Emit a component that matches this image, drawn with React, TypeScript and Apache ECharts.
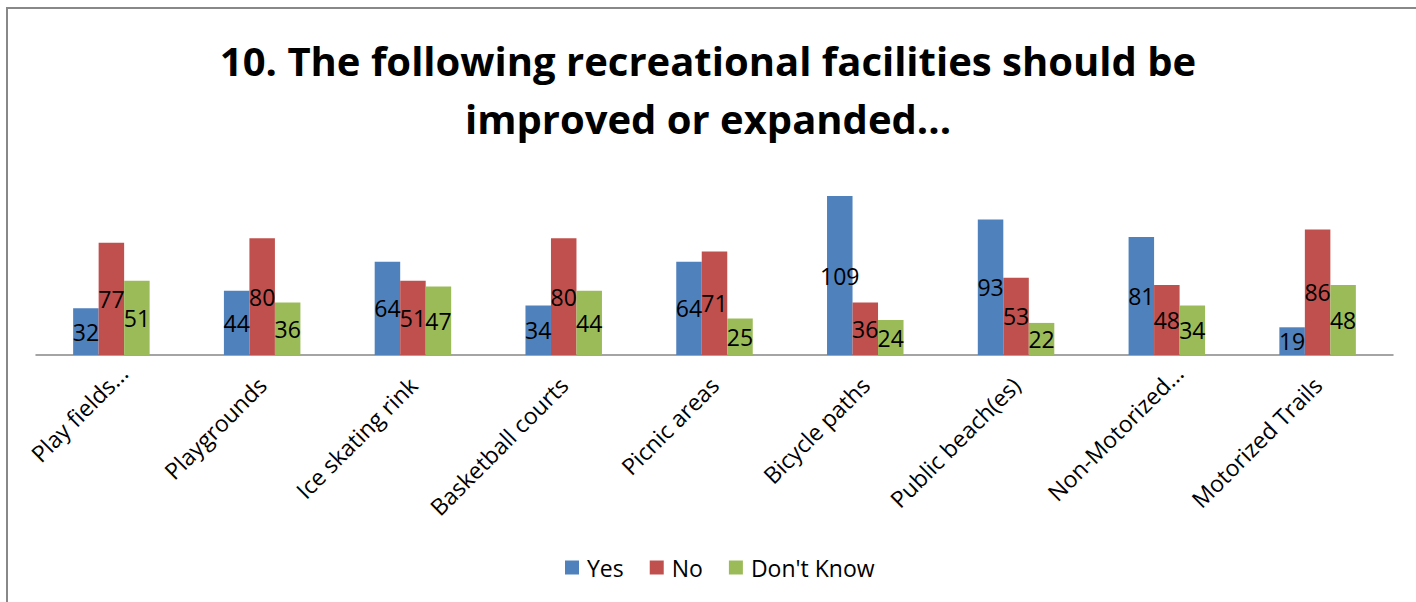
import React, { useEffect, useRef } from "react";
import * as echarts from "echarts";

const categories = [
  "Play fields...",
  "Playgrounds",
  "Ice skating rink",
  "Basketball courts",
  "Picnic areas",
  "Bicycle paths",
  "Public beach(es)",
  "Non-Motorized...",
  "Motorized Trails",
];
const yesValues = [32, 44, 64, 34, 64, 109, 93, 81, 19];
const noValues = [77, 80, 51, 80, 71, 36, 53, 48, 86];
const dontKnowValues = [51, 36, 47, 44, 25, 24, 22, 34, 48];
const seriesNames = ["Yes", "No", "Don't Know"];
const titleText = "10. The following recreational facilities should be\nimproved or expanded...";

const FONT = "'Open Sans', 'DejaVu Sans', sans-serif";

export default function App() {
  const ref = useRef<HTMLDivElement>(null);
  useEffect(() => {
    if (!ref.current) return;
    const chart = echarts.init(ref.current, null, { renderer: "svg" });
    const label = {
      show: true,
      position: "inside",
      color: "#000",
      fontSize: 23,
      fontFamily: FONT,
    };
    const mk = (name: string, data: number[], color: string) => ({
      name,
      type: "bar",
      data,
      barWidth: 25.5,
      barGap: "0%",
      itemStyle: { color },
      label,
    });
    const catData = categories.map((c) =>
      c.endsWith("...")
        ? { value: c, textStyle: { padding: [0, -17, 0, 0] } }
        : c
    );
    chart.setOption({
      animation: false,
      backgroundColor: "#fff",
      textStyle: { fontFamily: FONT },
      title: {
        text: titleText,
        left: "center",
        top: 26,
        textStyle: {
          fontSize: 40,
          fontWeight: "bold",
          color: "#000",
          lineHeight: 58,
          fontFamily: FONT,
        },
      },
      legend: {
        data: seriesNames,
        bottom: 18,
        left: 560,
        itemWidth: 14,
        itemHeight: 14,
        itemGap: 26,
        icon: "rect",
        textStyle: {
          fontSize: 23,
          color: "#000",
          fontFamily: FONT,
          padding: [0, 0, 0, 3],
        },
      },
      grid: { left: 36, right: 23, top: 180, bottom: 247, containLabel: false },
      xAxis: {
        type: "category",
        data: catData,
        axisLine: { lineStyle: { color: "#868686", width: 1.5 } },
        axisTick: { show: false },
        axisLabel: {
          rotate: 45,
          interval: 0,
          margin: 26,
          fontSize: 23,
          color: "#000",
          fontFamily: FONT,
        },
      },
      yAxis: {
        type: "value",
        min: 0,
        max: 120,
        show: false,
        splitLine: { show: false },
      },
      graphic: [
        {
          type: "rect",
          shape: { x: 7, y: 8, width: 1430, height: 620 },
          style: { fill: "none", stroke: "#888", lineWidth: 2 },
          silent: true,
        },
      ],
      series: [
        mk(seriesNames[0], yesValues, "#4F81BD"),
        mk(seriesNames[1], noValues, "#C0504D"),
        mk(seriesNames[2], dontKnowValues, "#9BBB59"),
      ],
    });
    return () => chart.dispose();
  }, []);
  return (
    <div
      ref={ref}
      style={{ position: "fixed", left: 0, top: 0, width: 1416, height: 602 }}
    />
  );
}
